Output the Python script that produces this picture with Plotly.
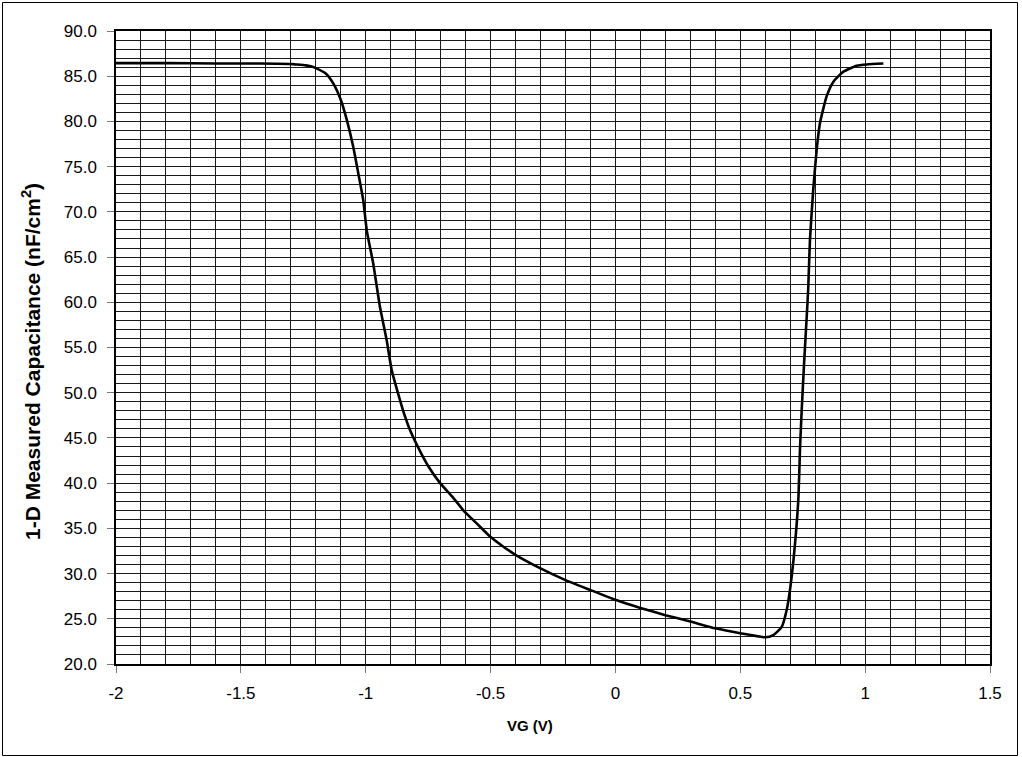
import plotly.graph_objects as go

# Data
vg = [-2.0, -1.8, -1.6, -1.42, -1.3, -1.28, -1.24, -1.22, -1.2, -1.16, -1.13,
      -1.10, -1.076, -1.05, -1.03, -1.01, -0.995, -0.97, -0.943, -0.916,
      -0.896, -0.863, -0.85, -0.823, -0.78, -0.75, -0.702, -0.65, -0.609,
      -0.55, -0.502, -0.45, -0.402, -0.302, -0.202, -0.102,
      0.0, 0.1, 0.2, 0.3, 0.4, 0.5, 0.6, 0.632, 0.666, 0.686, 0.699, 0.713,
      0.723, 0.733, 0.739, 0.746, 0.755, 0.766, 0.772, 0.779, 0.792, 0.806,
      0.819, 0.846, 0.873, 0.913, 0.966, 1.006, 1.073]
cap = [86.45, 86.45, 86.4, 86.4, 86.35, 86.3, 86.2, 86.1, 85.9, 85.3, 84.2,
       82.4, 80.2, 77.2, 74.3, 71.3, 67.8, 64.3, 59.5, 55.8,
       52.5, 49.2, 48.0, 45.9, 43.4, 41.9, 40.0, 38.4, 37.0,
       35.4, 34.1, 33.0, 32.1, 30.6, 29.3, 28.2,
       27.1, 26.2, 25.4, 24.7, 23.95, 23.4, 22.95, 23.2, 24.1, 26.0, 28.2, 31.5,
       34.5, 38.5, 43.7, 48.1, 53.0, 58.4, 61.5, 66.9, 72.4, 76.9,
       79.8, 82.8, 84.4, 85.5, 86.15, 86.3, 86.4]

x_tick_vals = [-2, -1.5, -1, -0.5, 0, 0.5, 1, 1.5]
x_tick_labels = ["-2", "-1.5", "-1", "-0.5", "0", "0.5", "1", "1.5"]
x_title = "<b>VG (V)</b>"
y_title = "<b>1-D Measured Capacitance (nF/cm<sup>2</sup>)</b>"

FONT = "Liberation Sans, Arial, sans-serif"

# plot-area geometry in page pixels (used for paper-coordinate conversion)
PL, PR, PT, PB = 116, 990, 31, 664
W, H = 1022, 757
PW, PH = PR - PL, PB - PT


def px(x):
    return (x - PL) / PW


def py(y):
    return (PB - y) / PH


fig = go.Figure()
fig.add_trace(go.Scatter(x=vg, y=cap, mode="lines",
                         line=dict(color="black", width=2.6, shape="spline", smoothing=0.5),
                         showlegend=False, hoverinfo="skip"))

grid_col = "#1a1a1a"
fig.update_xaxes(
    range=[-2, 1.5], tickvals=x_tick_vals, ticktext=x_tick_labels,
    ticks="outside", ticklen=7, tickcolor="#777", tickwidth=1,
    ticklabelstandoff=6,
    showgrid=True, gridcolor=grid_col, gridwidth=1,
    minor=dict(dtick=0.1, tick0=-2, showgrid=True, gridcolor=grid_col, gridwidth=1, ticks=""),
    showline=True, linecolor="black", linewidth=1.5, mirror=True,
    zeroline=False,
    tickfont=dict(family=FONT, size=17, color="black"),
)
fig.update_yaxes(
    range=[20, 90], dtick=5, tick0=20, tickformat=".1f",
    ticks="outside", ticklen=7, tickcolor="#777", tickwidth=1,
    ticklabelstandoff=7,
    showgrid=True, gridcolor=grid_col, gridwidth=1,
    minor=dict(dtick=1, tick0=20, showgrid=True, gridcolor=grid_col, gridwidth=1, ticks=""),
    showline=True, linecolor="black", linewidth=1.5, mirror=True,
    zeroline=False,
    tickfont=dict(family=FONT, size=17, color="black"),
)

# axis titles placed as in the reference
fig.add_annotation(text=x_title, xref="paper", yref="paper",
                   x=px(530), y=py(725), showarrow=False,
                   xanchor="center", yanchor="middle",
                   font=dict(family=FONT, size=15, color="black"))
fig.add_annotation(text=y_title, xref="paper", yref="paper",
                   x=px(31), y=py(362), showarrow=False, textangle=-90,
                   xanchor="center", yanchor="middle",
                   font=dict(family=FONT, size=21, color="black"))

# outer chart border
fig.add_shape(type="rect", xref="paper", yref="paper",
              x0=px(2.5), x1=px(1017.5), y0=py(755.5), y1=py(2.5),
              line=dict(color="black", width=1), fillcolor="rgba(0,0,0,0)", layer="below")

fig.update_layout(
    width=W, height=H,
    margin=dict(l=PL, r=W - PR, t=PT, b=H - PB),
    paper_bgcolor="white", plot_bgcolor="white",
    font=dict(family=FONT, color="black"),
)

fig.write_html("out.html", config={"displayModeBar": False},
               post_script="document.body.style.margin='0';")
